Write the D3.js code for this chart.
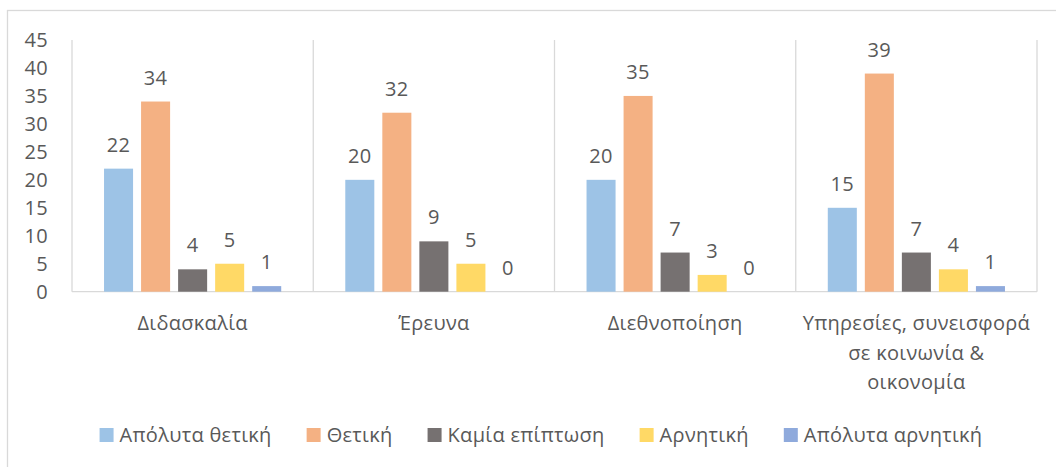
<!DOCTYPE html>
<html>
<head>
<meta charset="utf-8">
<script src="https://cdn.jsdelivr.net/npm/d3@7"></script>
<style>
  html, body { margin: 0; padding: 0; background: #fff; }
  svg text { font-family: "Open Sans", "Noto Sans", sans-serif; fill: #595959; letter-spacing: 0.3px; }
</style>
</head>
<body>
<svg id="chart" width="1056" height="467"></svg>
<script>
// Categories (multi-line labels are split on "\n")
const categories = [
  "Διδασκαλία",
  "Έρευνα",
  "Διεθνοποίηση",
  "Υπηρεσίες, συνεισφορά\nσε κοινωνία &\nοικονομία"
];
const seriesNames = ["Απόλυτα θετική", "Θετική", "Καμία επίπτωση", "Αρνητική", "Απόλυτα αρνητική"];
const seriesColors = ["#9DC3E6", "#F4B183", "#767171", "#FFD966", "#8FAADC"];
// values[s][c] : series s, category c
const absPositive = [22, 20, 20, 15];
const positive    = [34, 32, 35, 39];
const noImpact    = [4, 9, 7, 7];
const negative    = [5, 5, 3, 4];
const absNegative = [1, 0, 0, 1];
const values = [absPositive, positive, noImpact, negative, absNegative];
const yTicks = [0, 5, 10, 15, 20, 25, 30, 35, 40, 45];

const svg = d3.select("#chart");
const W = 1056, H = 467;
const plot = { left: 72, right: 1037, top: 40, bottom: 291.7 };
const fontSize = 20;

// Outer chart border
svg.append("rect")
  .attr("x", 7.5).attr("y", 10.5)
  .attr("width", W + 10).attr("height", H + 10)
  .attr("fill", "none").attr("stroke", "#d9d9d9").attr("stroke-width", 1.3);

const x0 = d3.scaleBand().domain(d3.range(categories.length))
  .range([plot.left, plot.right]).paddingInner(0).paddingOuter(0);
const x1 = d3.scaleBand().domain(d3.range(seriesNames.length))
  .range([0, x0.bandwidth()]).paddingInner(8 / 37).paddingOuter(0.865);
const y = d3.scaleLinear().domain([0, 45]).range([plot.bottom, plot.top]);

// Category separators (vertical lines between categories)
const seps = d3.range(categories.length + 1).map(i =>
  i < categories.length ? x0(i) : x0(categories.length - 1) + x0.bandwidth());
svg.append("g").selectAll("line").data(seps).join("line")
  .attr("x1", d => d).attr("x2", d => d)
  .attr("y1", plot.top).attr("y2", plot.bottom)
  .attr("stroke", "#d9d9d9").attr("stroke-width", 1.3);

// Horizontal baseline
svg.append("line")
  .attr("x1", plot.left).attr("x2", plot.right)
  .attr("y1", plot.bottom).attr("y2", plot.bottom)
  .attr("stroke", "#d9d9d9").attr("stroke-width", 1.3);

// Y axis tick labels
const yAxis = d3.axisLeft(y).tickValues(yTicks).tickSize(0).tickPadding(0);
const gy = svg.append("g").attr("transform", "translate(48,0)").call(yAxis);
gy.select(".domain").remove();
gy.selectAll("text")
  .attr("font-size", fontSize)
  .style("font-family", "\"Open Sans\", sans-serif")
  .attr("fill", "#595959");

// Bars and value labels
const groups = svg.append("g").selectAll("g")
  .data(categories.map((c, ci) => ({ ci })))
  .join("g")
  .attr("transform", d => `translate(${x0(d.ci)},0)`);

groups.selectAll("rect")
  .data(d => values.map((v, si) => ({ si, v: v[d.ci] })))
  .join("rect")
  .attr("x", d => x1(d.si))
  .attr("width", x1.bandwidth())
  .attr("y", d => y(d.v))
  .attr("height", d => plot.bottom - y(d.v))
  .attr("fill", d => seriesColors[d.si]);

groups.selectAll("text.val")
  .data(d => values.map((v, si) => ({ si, v: v[d.ci] })))
  .join("text")
  .attr("class", "val")
  .attr("x", d => x1(d.si) + x1.bandwidth() / 2)
  .attr("y", d => y(d.v) - 17)
  .attr("text-anchor", "middle")
  .attr("font-size", fontSize)
  .text(d => d.v);

// Category labels
const catG = svg.append("g");
categories.forEach((c, ci) => {
  const lines = c.split("\n");
  const t = catG.append("text")
    .attr("text-anchor", "middle")
    .attr("font-size", fontSize)
    .attr("x", x0(ci) + x0.bandwidth() / 2)
    .attr("y", 330);
  lines.forEach((ln, li) => {
    t.append("tspan")
      .attr("x", x0(ci) + x0.bandwidth() / 2)
      .attr("y", 330 + li * 29.5)
      .text(ln);
  });
});

// Legend, centered horizontally
const legend = svg.append("g");
const sw = 14, swGap = 6, itemGap = 35;
const items = seriesNames.map((name, i) => {
  const g = legend.append("g");
  g.append("rect").attr("width", sw).attr("height", sw)
    .attr("y", -sw / 2).attr("fill", seriesColors[i]);
  const t = g.append("text").attr("x", sw + swGap).attr("y", 0)
    .attr("dy", "0.35em").attr("font-size", fontSize).text(name);
  return { g, w: sw + swGap + t.node().getComputedTextLength() };
});
const total = d3.sum(items, d => d.w) + itemGap * (items.length - 1);
let cx = 541 - total / 2;
items.forEach(it => {
  it.g.attr("transform", `translate(${cx},435)`);
  cx += it.w + itemGap;
});
</script>
</body>
</html>
